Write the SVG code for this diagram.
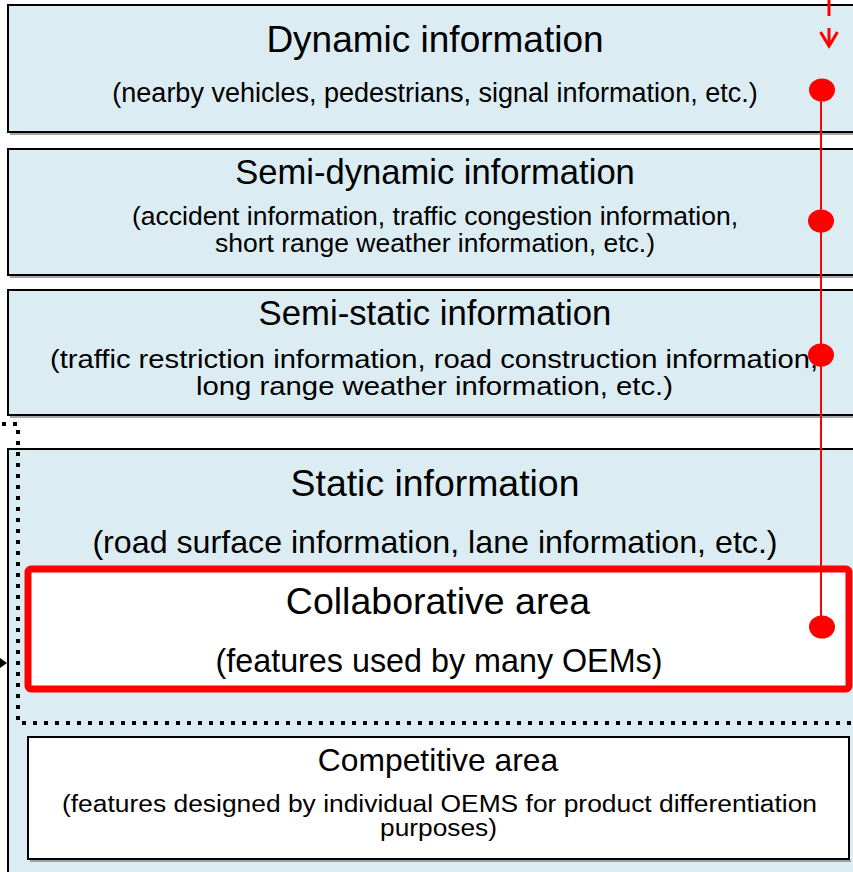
<svg xmlns="http://www.w3.org/2000/svg" width="853" height="872" viewBox="0 0 853 872">
<defs>
<style>
.box{fill:#DBECF2;stroke:#000;stroke-width:2}
.shadow{fill:none;stroke:#888;stroke-width:1.5}
.white{fill:#fff;stroke:#000;stroke-width:2}
text{font-family:"Liberation Sans",Arial,sans-serif;fill:#000;text-anchor:middle}
.dot{fill:#FF0000}
</style>
</defs>
<rect width="853" height="872" fill="#fff"/>

<g id="dynamic">
<rect class="box" x="8" y="5" width="860" height="127"/>
<line class="shadow" x1="10" y1="134" x2="860" y2="134"/>
<text x="435" y="52" font-size="37">Dynamic information</text>
<text x="435" y="102" font-size="27">(nearby vehicles, pedestrians, signal information, etc.)</text>
</g>

<g id="semi-dynamic">
<rect class="box" x="8" y="149" width="860" height="126"/>
<line class="shadow" x1="10" y1="277" x2="860" y2="277"/>
<text x="435" y="184" font-size="34.6">Semi-dynamic information</text>
<text x="435" y="225" font-size="25" textLength="606" lengthAdjust="spacingAndGlyphs">(accident information, traffic congestion information,</text>
<text x="435" y="252" font-size="25" textLength="440" lengthAdjust="spacingAndGlyphs">short range weather information, etc.)</text>
</g>

<g id="semi-static">
<rect class="box" x="8" y="290" width="860" height="125"/>
<line class="shadow" x1="10" y1="417" x2="860" y2="417"/>
<text x="435" y="325" font-size="34.7">Semi-static information</text>
<text x="434" y="368" font-size="25" textLength="768" lengthAdjust="spacingAndGlyphs">(traffic restriction information, road construction information,</text>
<text x="434.5" y="395" font-size="25" textLength="477" lengthAdjust="spacingAndGlyphs">long range weather information, etc.)</text>
</g>

<g id="static">
<rect class="box" x="8" y="449" width="860" height="440"/>
<text x="435" y="496" font-size="37.4">Static information</text>
<text x="435" y="553" font-size="32.2">(road surface information, lane information, etc.)</text>
</g>

<g id="collaborative">
<rect x="28" y="569" width="821" height="120" rx="3" fill="#fff" stroke="#FF0000" stroke-width="7"/>
<text x="438" y="614" font-size="37.5">Collaborative area</text>
<text x="439" y="672" font-size="32.3">(features used by many OEMs)</text>
</g>

<g id="competitive">
<rect class="white" x="28" y="737" width="821" height="122"/>
<line class="shadow" x1="30" y1="861" x2="851" y2="861"/>
<text x="438" y="771" font-size="31.8">Competitive area</text>
<text x="439.5" y="812" font-size="23.5" textLength="755" lengthAdjust="spacingAndGlyphs">(features designed by individual OEMS for product differentiation</text>
<text x="438.5" y="836" font-size="23.5" textLength="117" lengthAdjust="spacingAndGlyphs">purposes)</text>
</g>

<g id="connectors">
<path d="M2,424 H18 V723 H853" fill="none" stroke="#000" stroke-width="4" stroke-dasharray="4 7"/>
<polygon points="0,658 7,663 0,668" fill="#000"/>
<line x1="829" y1="0" x2="829" y2="45" stroke="#FF0000" stroke-width="3" stroke-dasharray="16 12"/>
<polyline points="820.5,32 829,46 837.5,32" fill="none" stroke="#FF0000" stroke-width="3"/>
<line x1="821" y1="91" x2="821" y2="627" stroke="#FF0000" stroke-width="2"/>
<ellipse class="dot" cx="822" cy="90" rx="13" ry="11.5"/>
<ellipse class="dot" cx="821" cy="221" rx="13" ry="11.5"/>
<ellipse class="dot" cx="821" cy="355" rx="13" ry="11.5"/>
<ellipse class="dot" cx="822" cy="627" rx="13" ry="11.5"/>
</g>
</svg>
